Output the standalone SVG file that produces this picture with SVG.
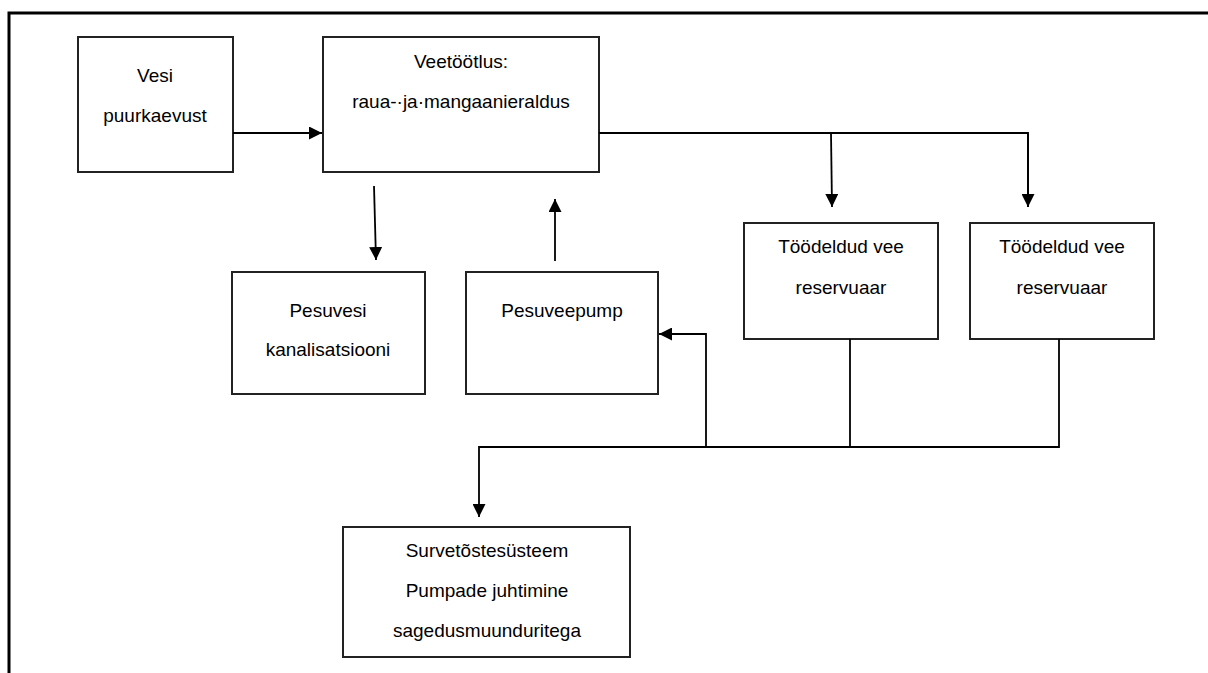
<svg xmlns="http://www.w3.org/2000/svg" width="1208" height="673" viewBox="0 0 1208 673">
<defs>
<style>
.box{fill:#fff;stroke:#222;stroke-width:2}
.t{font-family:"Liberation Sans",Arial,sans-serif;font-size:19px;fill:#000;text-anchor:middle}
.c{fill:none;stroke:#000;stroke-width:1.8}
.frame{fill:none;stroke:#000;stroke-width:3}
</style>
<marker id="ah" viewBox="0 0 13 13" refX="13" refY="6.5" markerWidth="13" markerHeight="13" markerUnits="userSpaceOnUse" orient="auto">
<path d="M0,0 L13,6.5 L0,13 Z" fill="#000"/>
</marker>
</defs>
<rect width="1208" height="673" fill="#fff"/>
<path class="frame" d="M9,673 V13 H1208"/>
<g id="n-vesi">
<rect class="box" x="78" y="37" width="155" height="135"/>
<text class="t" x="155" y="82">Vesi</text>
<text class="t" x="155" y="122">puurkaevust</text>
</g>
<g id="n-veetootlus">
<rect class="box" x="323" y="37" width="276" height="135"/>
<text class="t" x="461" y="68">Veetöötlus:</text>
<text class="t" x="461" y="108">raua-·ja·mangaanieraldus</text>
</g>
<g id="n-res1">
<rect class="box" x="744" y="223" width="194" height="116"/>
<text class="t" x="841" y="253">Töödeldud vee</text>
<text class="t" x="841" y="294">reservuaar</text>
</g>
<g id="n-res2">
<rect class="box" x="970" y="223" width="184" height="116"/>
<text class="t" x="1062" y="253">Töödeldud vee</text>
<text class="t" x="1062" y="294">reservuaar</text>
</g>
<g id="n-pesuvesi">
<rect class="box" x="232" y="272" width="193" height="122"/>
<text class="t" x="328" y="317">Pesuvesi</text>
<text class="t" x="328" y="356">kanalisatsiooni</text>
</g>
<g id="n-pesuveepump">
<rect class="box" x="466" y="272" width="192" height="122"/>
<text class="t" x="562" y="317">Pesuveepump</text>
</g>
<g id="n-surve">
<rect class="box" x="343" y="527" width="287" height="130"/>
<text class="t" x="487" y="557">Survetõstesüsteem</text>
<text class="t" x="487" y="597">Pumpade juhtimine</text>
<text class="t" x="487" y="637">sagedusmuunduritega</text>
</g>
<g id="connectors">
<path class="c" d="M233,133 H322" marker-end="url(#ah)"/>
<path class="c" d="M599,133 H1028 V207"/>
<path class="c" d="M1028,133 V207" marker-end="url(#ah)"/>
<path class="c" d="M831,133 L832,207" marker-end="url(#ah)"/>
<path class="c" d="M374,186 L376,260" marker-end="url(#ah)"/>
<path class="c" d="M555,261 V199" marker-end="url(#ah)"/>
<path class="c" d="M850,339 V447"/>
<path class="c" d="M1059,339 V447 H479 V517" marker-end="url(#ah)"/>
<path class="c" d="M706,447 V334 H659" marker-end="url(#ah)"/>
</g>
</svg>
